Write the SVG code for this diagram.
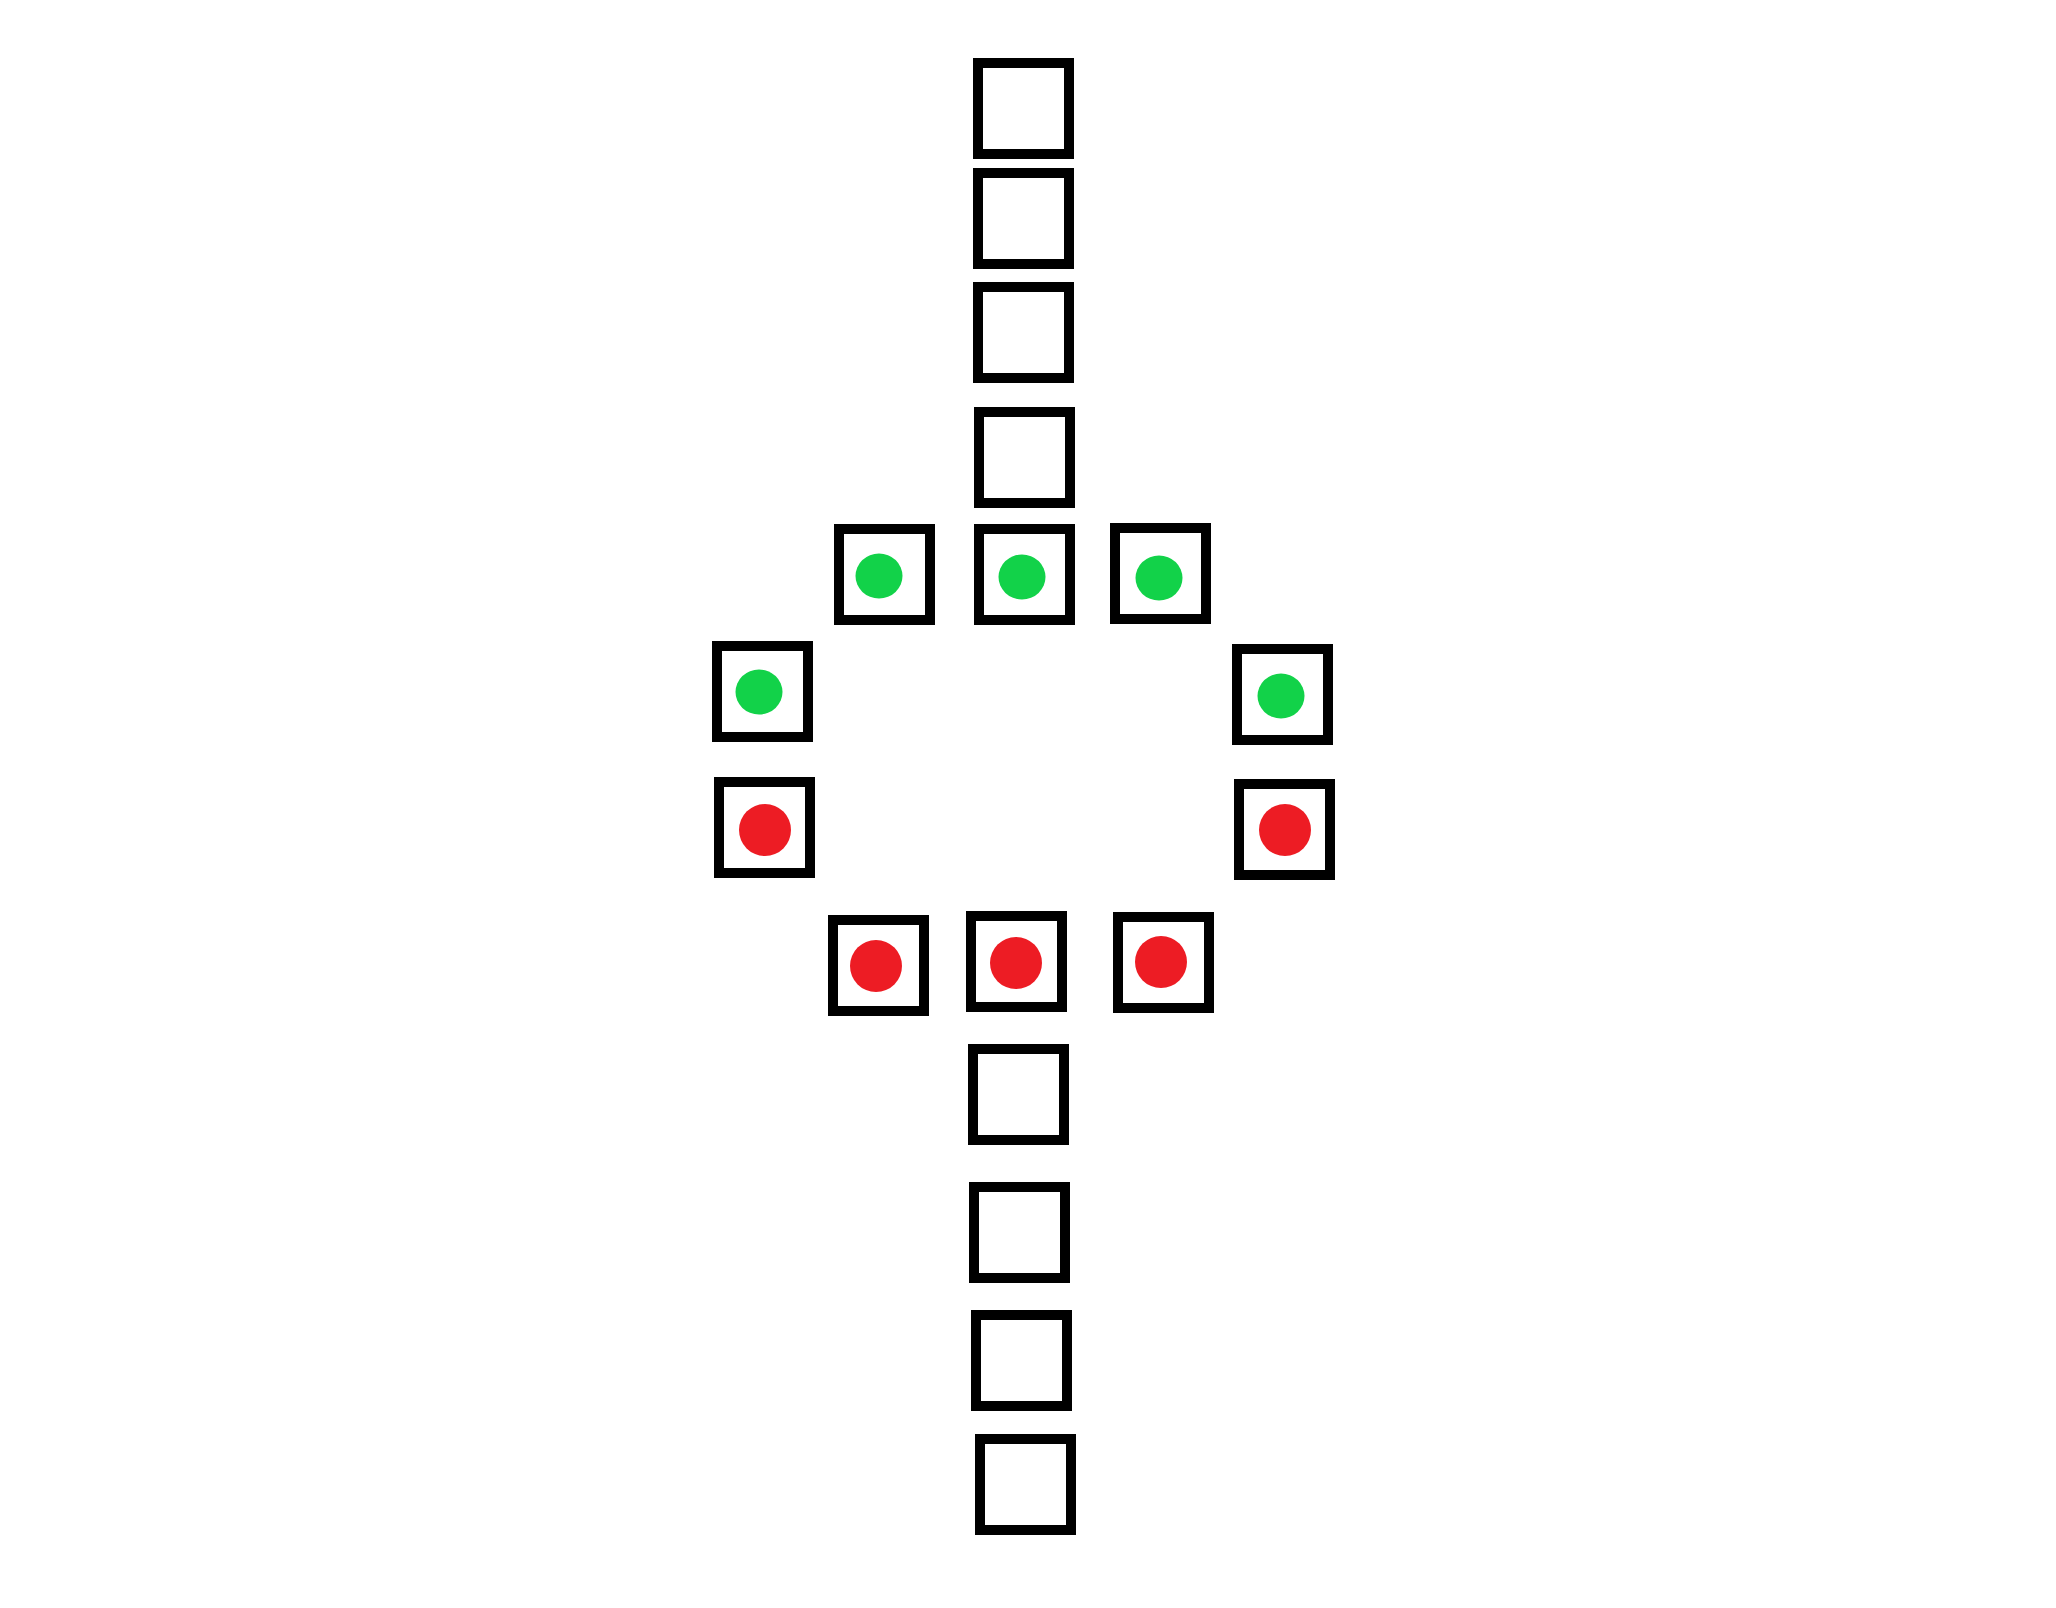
<svg xmlns="http://www.w3.org/2000/svg" width="2056" height="1608" viewBox="0 0 2056 1608">
<style>
.b{fill:#fff;stroke:#000;stroke-width:10}
.g{fill:#12d249}
.r{fill:#ed1c24}
</style>
<rect width="2056" height="1608" fill="#fff"/>
<g id="connectors"></g>
<g id="n1"><rect class="b" x="978" y="63" width="91" height="91"/></g>
<g id="n2"><rect class="b" x="978" y="173" width="91" height="91"/></g>
<g id="n3"><rect class="b" x="978" y="287" width="91" height="91"/></g>
<g id="n4"><rect class="b" x="979" y="412" width="91" height="91"/></g>
<g id="n5"><rect class="b" x="839" y="529" width="91" height="91"/><ellipse class="g" cx="879" cy="576" rx="23.5" ry="22.5"/></g>
<g id="n6"><rect class="b" x="979" y="529" width="91" height="91"/><ellipse class="g" cx="1022" cy="577" rx="23.5" ry="22.5"/></g>
<g id="n7"><rect class="b" x="1115" y="528" width="91" height="91"/><ellipse class="g" cx="1159" cy="578" rx="23.5" ry="22.5"/></g>
<g id="n8"><rect class="b" x="717" y="646" width="91" height="91"/><ellipse class="g" cx="759" cy="692" rx="23.5" ry="22.5"/></g>
<g id="n9"><rect class="b" x="1237" y="649" width="91" height="91"/><ellipse class="g" cx="1281" cy="696" rx="23.5" ry="22.5"/></g>
<g id="n10"><rect class="b" x="719" y="782" width="91" height="91"/><circle class="r" cx="765" cy="830" r="26"/></g>
<g id="n11"><rect class="b" x="1239" y="784" width="91" height="91"/><circle class="r" cx="1285" cy="830" r="26"/></g>
<g id="n12"><rect class="b" x="833" y="920" width="91" height="91"/><circle class="r" cx="876" cy="966" r="26"/></g>
<g id="n13"><rect class="b" x="971" y="916" width="91" height="91"/><circle class="r" cx="1016" cy="963" r="26"/></g>
<g id="n14"><rect class="b" x="1118" y="917" width="91" height="91"/><circle class="r" cx="1161" cy="962" r="26"/></g>
<g id="n15"><rect class="b" x="973" y="1049" width="91" height="91"/></g>
<g id="n16"><rect class="b" x="974" y="1187" width="91" height="91"/></g>
<g id="n17"><rect class="b" x="976" y="1315" width="91" height="91"/></g>
<g id="n18"><rect class="b" x="980" y="1439" width="91" height="91"/></g>
</svg>
